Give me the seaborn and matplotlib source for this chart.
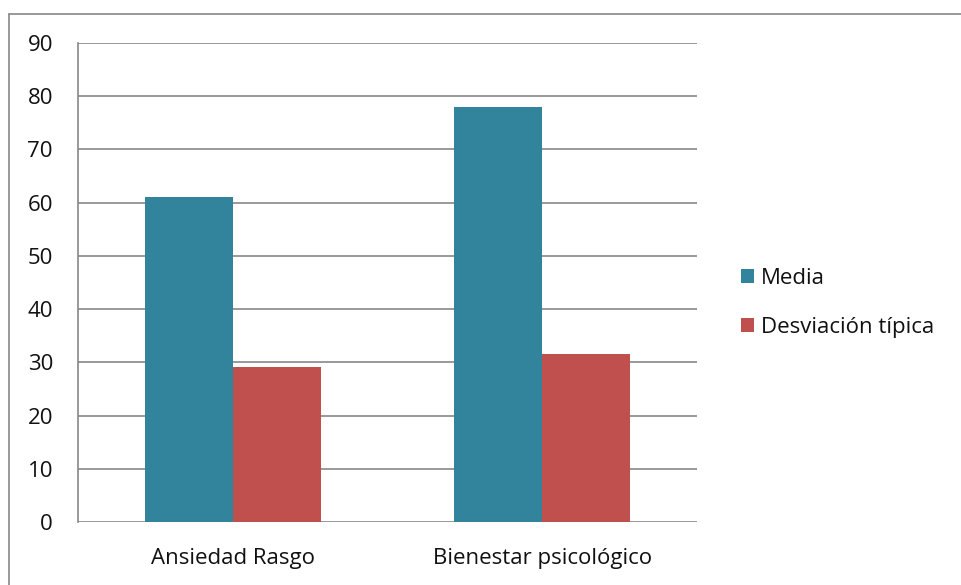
import matplotlib
matplotlib.use("Agg")
import matplotlib.pyplot as plt
import seaborn as sns
import pandas as pd
from matplotlib.patches import Patch

categorias = ["Ansiedad Rasgo", "Bienestar psicológico"]
series = ["Media", "Desviación típica"]
media = [61.0, 78.0]
desviacion = [29.1, 31.6]
colores = ["#31849B", "#C0504D"]

df = pd.DataFrame({
    "categoria": categorias * 2,
    "serie": [series[0]] * 2 + [series[1]] * 2,
    "valor": media + desviacion,
})

sns.set_style("white")
plt.rcParams["font.family"] = ["Open Sans", "DejaVu Sans"]

fig = plt.figure(figsize=(9.61, 5.85), dpi=100)
ax = fig.add_axes([78 / 961, 1 - 522 / 585, (697 - 78) / 961, (522 - 43) / 585])

sns.barplot(data=df, x="categoria", y="valor", hue="serie", palette=colores,
            width=0.57, ax=ax, saturation=1, legend=False, zorder=3)
for p in ax.patches:
    p.set_edgecolor("none")

ax.set_xlim(-0.5, 1.5)
ax.set_ylim(0, 90)
ax.set_yticks(range(0, 91, 10))
ax.yaxis.grid(True, color="#888888", linewidth=1.2, zorder=0)
ax.set_axisbelow(True)
ax.set_xlabel("")
ax.set_ylabel("")
for s in ["top", "right", "bottom"]:
    ax.spines[s].set_visible(False)
ax.spines["left"].set_color("#888888")
ax.spines["left"].set_linewidth(1.2)
ax.tick_params(axis="y", length=0, labelsize=16, pad=18, labelcolor="#111111")
ax.tick_params(axis="x", length=0, labelsize=16, pad=19, labelcolor="#111111")

handles = [Patch(facecolor=c, edgecolor="none") for c in colores]
fig.legend(handles, series, loc="center left", bbox_to_anchor=(721 / 961, 1 - 303 / 585),
           frameon=False, fontsize=16, handlelength=0.6, handleheight=0.6,
           handletextpad=0.3, labelspacing=1.25, labelcolor="#111111")

# outer chart frame
fig.add_artist(plt.Line2D([9 / 961, 9 / 961], [0, 1 - 14 / 585], color="#888888", lw=1.2))
fig.add_artist(plt.Line2D([9 / 961, 1], [1 - 14 / 585, 1 - 14 / 585], color="#888888", lw=1.2))

fig.savefig("out.png", dpi=100)
